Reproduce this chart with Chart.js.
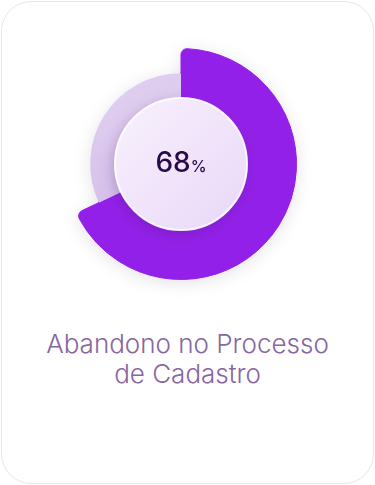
<!DOCTYPE html>
<html>
<head>
<meta charset="utf-8">
<script src="https://cdn.jsdelivr.net/npm/chart.js@4"></script>
<style>
  html, body { margin: 0; padding: 0; background: #ffffff; }
  body { width: 375px; height: 485px; position: relative; overflow: hidden; font-family: "Inter", "DejaVu Sans", sans-serif; }
  .card { position: absolute; left: 1px; top: 1px; width: 371px; height: 481px; border: 1px solid #e7e6ec; border-radius: 30px; background: #fff; }
  .chartbox { position: absolute; left: 61px; top: 44px; width: 240px; height: 240px; filter: drop-shadow(0 3px 8px rgba(40,20,70,0.13)); }
  .center { position: absolute; left: 131px; top: 145px; width: 100px; text-align: center; color: #2a0a48; font-weight: 500; white-space: nowrap; }
  .center .num { font-size: 28px; }
  .center .pct { font-size: 16px; }
  .title { position: absolute; left: 0; top: 329px; width: 375px; text-align: center; color: #8866a2; font-size: 26px; line-height: 30px; font-weight: 350; }
</style>
</head>
<body>
<div class="card"></div>
<div class="chartbox"><canvas id="c" width="240" height="240"></canvas></div>
<div class="center"><span class="num" id="num"></span><span class="pct">%</span></div>
<div class="title" id="title"></div>
<script>
const categories = ['Abandono', 'Concluído'];
const values = [68, 32];
const titleLines = ['Abandono no Processo', 'de Cadastro'];

document.getElementById('num').textContent = values[0];
document.getElementById('title').innerHTML = titleLines.join('<br>');

const purple = '#9320e8';
const ctx = document.getElementById('c').getContext('2d');

function lavender(chart) {
  const a = chart.chartArea;
  if (!a) return '#dccaee';
  const g = chart.ctx.createLinearGradient(a.left, a.top, a.left + 80, a.bottom - 60);
  g.addColorStop(0, '#e6d7f4');
  g.addColorStop(1, '#d3bce8');
  return g;
}

const centerCircle = {
  id: 'centerCircle',
  afterDatasetsDraw(chart) {
    const arc = chart.getDatasetMeta(1).data[0];
    if (!arc) return;
    const c = chart.ctx;
    const r = arc.innerRadius + 2;
    c.save();
    c.shadowColor = 'rgba(70,20,110,0.28)';
    c.shadowBlur = 14;
    c.shadowOffsetX = -2;
    c.shadowOffsetY = 4;
    const g = c.createLinearGradient(arc.x - r, arc.y - r, arc.x + r, arc.y + r);
    g.addColorStop(0, '#f8f1fd');
    g.addColorStop(1, '#e9d7f8');
    c.beginPath();
    c.arc(arc.x, arc.y, r, 0, Math.PI * 2);
    c.fillStyle = g;
    c.fill();
    c.shadowColor = 'transparent';
    c.lineWidth = 2;
    c.strokeStyle = 'rgba(255,255,255,0.9)';
    c.stroke();
    c.restore();
  }
};

new Chart(ctx, {
  type: 'doughnut',
  data: {
    labels: categories,
    datasets: [
      {
        data: values,
        backgroundColor: [purple, 'rgba(0,0,0,0)'],
        borderColor: [purple, 'rgba(0,0,0,0)'],
        borderWidth: [1, 0],
        borderRadius: { outerStart: 6, outerEnd: 6, innerStart: 0, innerEnd: 0 },
        weight: 24
      },
      {
        data: values,
        backgroundColor: (context) => context.dataIndex === 0 ? purple : lavender(context.chart),
        borderColor: [purple, 'rgba(0,0,0,0)'],
        borderWidth: [2, 0],
        borderRadius: 0,
        weight: 26
      }
    ]
  },
  options: {
    responsive: false,
    animation: false,
    cutout: 64,
    layout: { padding: 4 },
    plugins: { legend: { display: false }, tooltip: { enabled: false } },
    events: []
  },
  plugins: [centerCircle]
});
</script>
</body>
</html>
